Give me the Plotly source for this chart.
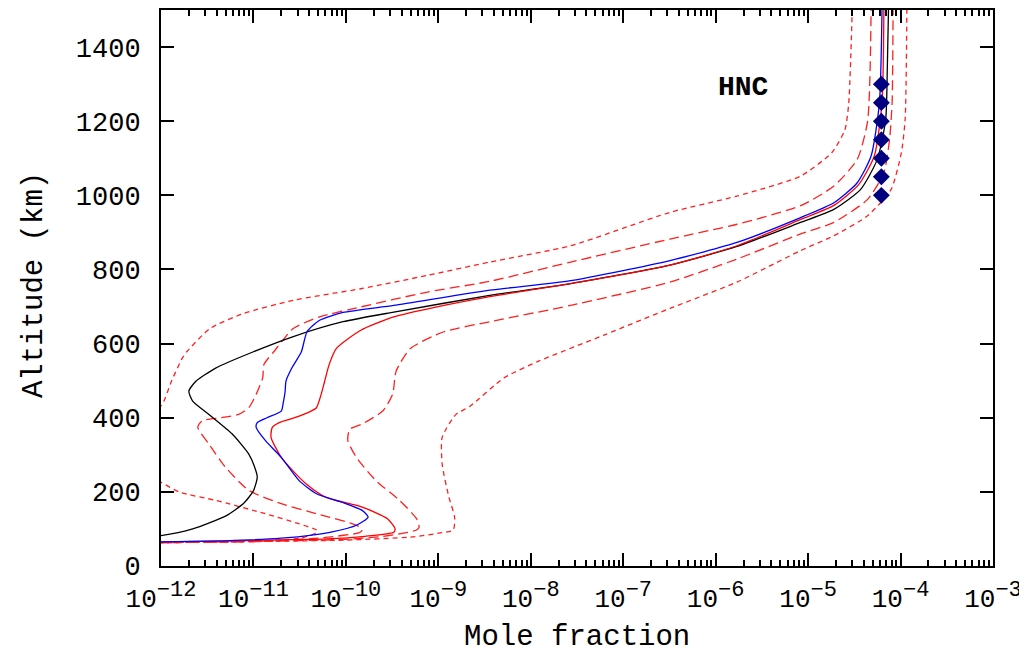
import plotly.graph_objects as go

# ---------------- data (altitude km, mole fraction) ----------------
black_alt = [70, 82, 100, 136, 170, 203, 240, 270, 302, 356, 409, 445, 472, 499, 534, 578, 619, 659, 685, 730, 762, 812, 862, 927, 962, 1016, 1097, 1204, 1350, 1500]
black_x = [2.5e-13, 1.0e-12, 2.2e-12, 5.1e-12, 7.9e-12, 1.0e-11, 1.1e-11, 1.02e-11, 8.9e-12, 5.9e-12, 3.3e-12, 2.2e-12, 2.0e-12, 2.4e-12, 3.9e-12, 1.0e-11, 2.7e-11, 9.3e-11, 3.3e-10, 3.6e-9, 2.7e-8, 3.2e-7, 1.7e-6, 8.3e-6, 1.9e-5, 3.7e-5, 5.6e-5, 6.9e-5, 7.2e-5, 7.4e-5]

blue_alt = [62, 65, 68, 75, 84, 92, 110, 132, 150, 172, 195, 231, 293, 338, 374, 387, 400, 418, 440, 470, 499, 534, 578, 632, 663, 684, 703, 744, 770, 824, 873, 940, 980, 1034, 1106, 1248, 1500]
blue_x = [1e-13, 1e-12, 5e-12, 2.0e-11, 4.5e-11, 7.1e-11, 1.3e-10, 1.74e-10, 1.5e-10, 9.1e-11, 4.8e-11, 3.1e-11, 2.0e-11, 1.35e-11, 1.07e-11, 1.1e-11, 1.4e-11, 2.0e-11, 2.1e-11, 2.2e-11, 2.25e-11, 2.6e-11, 3.3e-11, 3.8e-11, 5.2e-11, 9.3e-11, 3.3e-10, 3.6e-9, 2.7e-8, 3.2e-7, 1.7e-6, 8.3e-6, 1.9e-5, 3.4e-5, 4.8e-5, 5.9e-5, 6.3e-5]

red_alt = [62, 65, 68, 73, 80, 91, 101, 128, 159, 186, 222, 260, 293, 347, 374, 387, 400, 418, 427, 463, 499, 544, 587, 636, 672, 703, 727, 762, 812, 864, 935, 973, 1028, 1106, 1250, 1500]
red_x = [1e-13, 1e-12, 6e-12, 6.2e-11, 1.6e-10, 3.3e-10, 3.4e-10, 2.8e-10, 1.5e-10, 6.0e-11, 3.7e-11, 2.6e-11, 2.0e-11, 1.55e-11, 1.6e-11, 1.9e-11, 2.8e-11, 4.2e-11, 4.8e-11, 5.4e-11, 5.9e-11, 6.6e-11, 7.9e-11, 1.45e-10, 3.3e-10, 1.15e-9, 3.6e-9, 2.7e-8, 3.2e-7, 1.7e-6, 8.3e-6, 1.9e-5, 3.5e-5, 5.2e-5, 6.3e-5, 6.6e-5]

lo1_alt = [62, 63, 66, 75, 90, 97, 110, 141, 168, 204, 266, 329, 374, 392, 400, 409, 427, 463, 508, 544, 578, 641, 672, 699, 739, 768, 820, 882, 922, 972, 1025, 1097, 1200, 1500]
lo1_x = [1e-13, 1e-12, 1e-11, 5e-11, 1.4e-10, 1.5e-10, 1.3e-10, 4.8e-11, 2.0e-11, 8.9e-12, 5.0e-12, 3.3e-12, 2.5e-12, 2.8e-12, 4.5e-12, 6.9e-12, 8.9e-12, 1.07e-11, 1.26e-11, 1.3e-11, 1.66e-11, 2.7e-11, 5.2e-11, 1.45e-10, 7.6e-10, 3.6e-9, 2.7e-8, 3.2e-7, 1.7e-6, 8.3e-6, 1.9e-5, 3.4e-5, 4.4e-5, 4.8e-5]

lo2_alt = [62, 63, 67, 75, 91, 97, 114, 141, 177, 199, 226, 270, 330, 400, 432, 499, 561, 578, 641, 681, 717, 748, 784, 820, 864, 954, 998, 1052, 1115, 1177, 1248, 1500]
lo2_x = [1e-13, 1e-12, 1e-11, 3.2e-11, 4.9e-11, 4.8e-11, 3.1e-11, 1.35e-11, 3.9e-12, 1.6e-12, 1.0e-12, 5e-13, 3.5e-13, 5e-13, 1.0e-12, 1.3e-12, 1.7e-12, 1.9e-12, 3.4e-12, 7.8e-12, 2.7e-11, 1.45e-10, 7.6e-10, 3.6e-9, 2.7e-8, 3.2e-7, 1.7e-6, 8.3e-6, 1.8e-5, 2.5e-5, 2.75e-5, 3.0e-5]

hi1_alt = [62, 63, 66, 72, 80, 90, 97, 105, 128, 177, 231, 293, 338, 369, 383, 418, 463, 526, 587, 632, 659, 703, 766, 828, 896, 927, 989, 1061, 1150, 1250, 1500]
hi1_x = [1e-13, 1e-12, 1e-11, 1e-10, 2.5e-10, 4.5e-10, 5.8e-10, 6.2e-10, 5.8e-10, 3.8e-10, 2.1e-10, 1.3e-10, 1.05e-10, 1.1e-10, 1.5e-10, 2.5e-10, 3.2e-10, 3.5e-10, 5.0e-10, 1.15e-9, 3.6e-9, 2.7e-8, 3.2e-7, 1.7e-6, 8.3e-6, 1.9e-5, 4.4e-5, 6.6e-5, 7.6e-5, 8.1e-5, 8.3e-5]

hi2_alt = [62, 63, 66, 70, 78, 90, 97, 132, 186, 275, 347, 409, 431, 507, 552, 623, 695, 766, 851, 891, 945, 1016, 1115, 1204, 1500]
hi2_x = [1e-13, 1e-12, 1e-11, 1e-10, 5e-10, 1.1e-9, 1.45e-9, 1.5e-9, 1.3e-9, 1.1e-9, 1.1e-9, 1.55e-9, 2.2e-9, 5.1e-9, 1.2e-8, 6.2e-8, 3.2e-7, 1.7e-6, 8.3e-6, 1.9e-5, 4.4e-5, 7.9e-5, 1.02e-4, 1.12e-4, 1.17e-4]

obs_alt = [1000, 1050, 1100, 1150, 1200, 1250, 1300]
obs_x = [6.2e-5, 6.2e-5, 6.2e-5, 6.2e-5, 6.2e-5, 6.2e-5, 6.2e-5]

# axis ticks
x_exponents = [-12, -11, -10, -9, -8, -7, -6, -5, -4, -3]
y_ticks = [0, 200, 400, 600, 800, 1000, 1200, 1400]

label = "HNC"
x_title = "Mole fraction"
y_title = "Altitude (km)"
FONT = "Liberation Mono, Courier New, monospace"

x_tickvals = [10.0 ** e for e in x_exponents]
x_ticktext = ["10<sup><span style='font-size:22px'>\u2212%d</span></sup>" % abs(e) for e in x_exponents]
x_minor = [m * 10.0 ** e for e in x_exponents[:-1] for m in range(2, 10)]

fig = go.Figure()

def line(x, y, color, dash="solid", width=1.3):
    fig.add_trace(go.Scatter(x=x, y=y, mode="lines", line=dict(color=color, width=width, dash=dash, shape="spline", smoothing=0.6), showlegend=False, hoverinfo="skip"))

line(lo2_x, lo2_alt, "#ff2020", "5px,4px")
line(hi2_x, hi2_alt, "#ff2020", "5px,4px")
line(lo1_x, lo1_alt, "#ff2020", "10px,5px")
line(hi1_x, hi1_alt, "#ff2020", "10px,5px")
line(black_x, black_alt, "#000000")
line(red_x, red_alt, "#ff0000")
line(blue_x, blue_alt, "#0000ff")

fig.add_trace(go.Scatter(x=obs_x, y=obs_alt, mode="markers",
                         marker=dict(symbol="diamond", size=13, color="#000080"),
                         showlegend=False, hoverinfo="skip"))

fig.add_annotation(x=-5.70, y=1291, xref="x", yref="y", text="<b>" + label + "</b>",
                   showarrow=False, font=dict(family=FONT, size=28, color="black"))
fig.add_annotation(x=0.5, y=-0.1277, xref="paper", yref="paper", text=x_title,
                   showarrow=False, yanchor="middle", xanchor="center",
                   font=dict(family=FONT, size=29, color="black"))
fig.add_annotation(x=-0.1514, y=0.5054, xref="paper", yref="paper", text=y_title,
                   showarrow=False, textangle=-90, yanchor="middle", xanchor="center",
                   font=dict(family=FONT, size=29, color="black"))

fig.update_xaxes(type="log", range=[-12, -3], tickmode="array",
                 tickvals=x_tickvals, ticktext=x_ticktext,
                 automargin=False, ticklabeloverflow="allow",
                 showline=True, linecolor="black", linewidth=2, mirror="allticks",
                 ticks="inside", ticklen=13, tickwidth=2, tickcolor="black",
                 ticklabelstandoff=8,
                 minor=dict(tickmode="array", tickvals=x_minor, ticks="inside", ticklen=6,
                            tickwidth=1.5, tickcolor="black", showgrid=False),
                 showgrid=False, zeroline=False,
                 tickfont=dict(family=FONT, size=26, color="black"))
fig.update_yaxes(range=[0, 1500], tickvals=y_ticks,
                 automargin=False, ticklabeloverflow="allow",
                 showline=True, linecolor="black", linewidth=2, mirror="allticks",
                 ticks="inside", ticklen=13, tickwidth=2, tickcolor="black",
                 ticklabelstandoff=13,
                 showgrid=False, zeroline=False,
                 tickfont=dict(family=FONT, size=27, color="black"))

# page body adds ~8px offset, so figure is slightly smaller than the window
fig.update_layout(width=1019, height=645, plot_bgcolor="white", paper_bgcolor="white",
                  margin=dict(l=153, r=34, t=2, b=87))

fig.write_html("out.html")
